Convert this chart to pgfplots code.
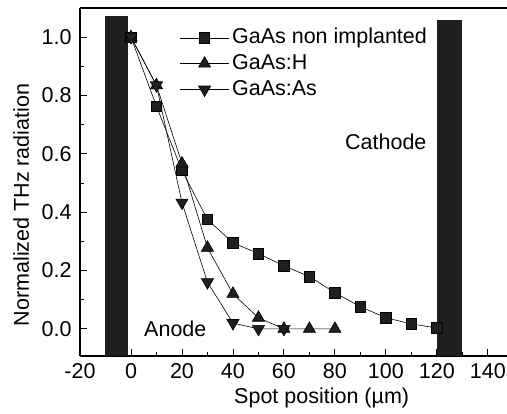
\documentclass[border=0pt]{standalone}
\usepackage{pgfplots}
\pgfplotsset{compat=1.18}
\usepackage{fontspec}
\setmainfont{Liberation Sans}
\newcommand{\bigf}{\fontsize{21.5pt}{25pt}\selectfont}
\begin{document}
\bigf
\begin{tikzpicture}[font=\bigf]
\begin{axis}[
 name=ax,
 font=\bigf,
 scale only axis, width=427pt, height=348pt,
 xmin=-20, xmax=147.5, ymin=-0.093, ymax=1.10,
 axis x line*=box, axis y line*=left,
 x axis line style={-}, y axis line style={-},
 axis line style={line width=1.1pt},
 xtick={-20,0,20,40,60,80,100,120,140}, ytick={0,0.2,0.4,0.6,0.8,1.0},
 xtick pos=bottom, ytick pos=left,
 minor x tick num=1, minor y tick num=1,
 tick align=inside, major tick length=7pt, minor tick length=4pt,
 tick style={black, line width=0.9pt},
 yticklabel style={xshift=-1pt, /pgf/number format/fixed, /pgf/number format/fixed zerofill, /pgf/number format/precision=1},
 /pgf/number format/assume math mode=true,
 xlabel={Spot position (µm)}, ylabel={Normalized THz radiation},
 xlabel style={at={(ticklabel cs:0.566)}, anchor=north, yshift=5pt},
 ylabel style={at={(axis description cs:-0.138,0.434)}, anchor=center},
 legend style={draw=none, fill=none, at={(0.234,0.952)}, anchor=north west,
   row sep=0pt, font=\bigf, inner sep=0pt,
   nodes={inner xsep=3pt, inner ysep=2.5pt, text height=0.75em, text depth=0.22em, font=\bigf}},
 legend cell align=left,
 legend image code/.code={\draw[#1] (0cm,0cm) -- (1.7cm,0cm); \draw[#1] plot coordinates {(0.85cm,0cm)};},
]
\addplot[fill=black!88, draw=none, forget plot] coordinates {(-10,-0.2) (-10,1.072) (-1,1.072) (-1,-0.2)} -- cycle;
\addplot[fill=black!88, draw=none, forget plot] coordinates {(120,-0.2) (120,1.058) (130,1.058) (130,-0.2)} -- cycle;
\addplot[black, line width=0.6pt, mark=square*, mark size=5.2pt, mark options={solid, fill=black!88}] coordinates {
 (0,1.0) (10,0.763) (20,0.543) (30,0.375) (40,0.295) (50,0.258) (60,0.216) (70,0.179) (80,0.124) (90,0.076) (100,0.038) (110,0.017) (120,0.003)};
\addlegendentry{GaAs non implanted}
\addplot[black, line width=0.6pt, mark=triangle*, mark size=7pt, mark options={solid, fill=black!88}] coordinates {
 (0,1.0) (10,0.835) (20,0.567) (30,0.278) (40,0.12) (50,0.038) (60,0.0) (70,0.0) (80,0.0)};
\addlegendentry{GaAs:H}
\addplot[black, line width=0.6pt, mark=triangle*, mark size=7pt, mark options={solid, fill=black!88, rotate=180}] coordinates {
 (0,1.0) (10,0.835) (20,0.433) (30,0.16) (40,0.02) (50,0.0) (60,0.0)};
\addlegendentry{GaAs:As}
\node[anchor=west, font=\bigf] at (axis cs:2.3,0.0) {Anode};
\node[anchor=east, font=\bigf] at (axis cs:118.8,0.64) {Cathode};
\end{axis}
\pgfresetboundingbox
\path (ax.south west) ++(-80pt,-58pt) rectangle ([yshift=8pt]ax.north east);
\end{tikzpicture}
\end{document}
